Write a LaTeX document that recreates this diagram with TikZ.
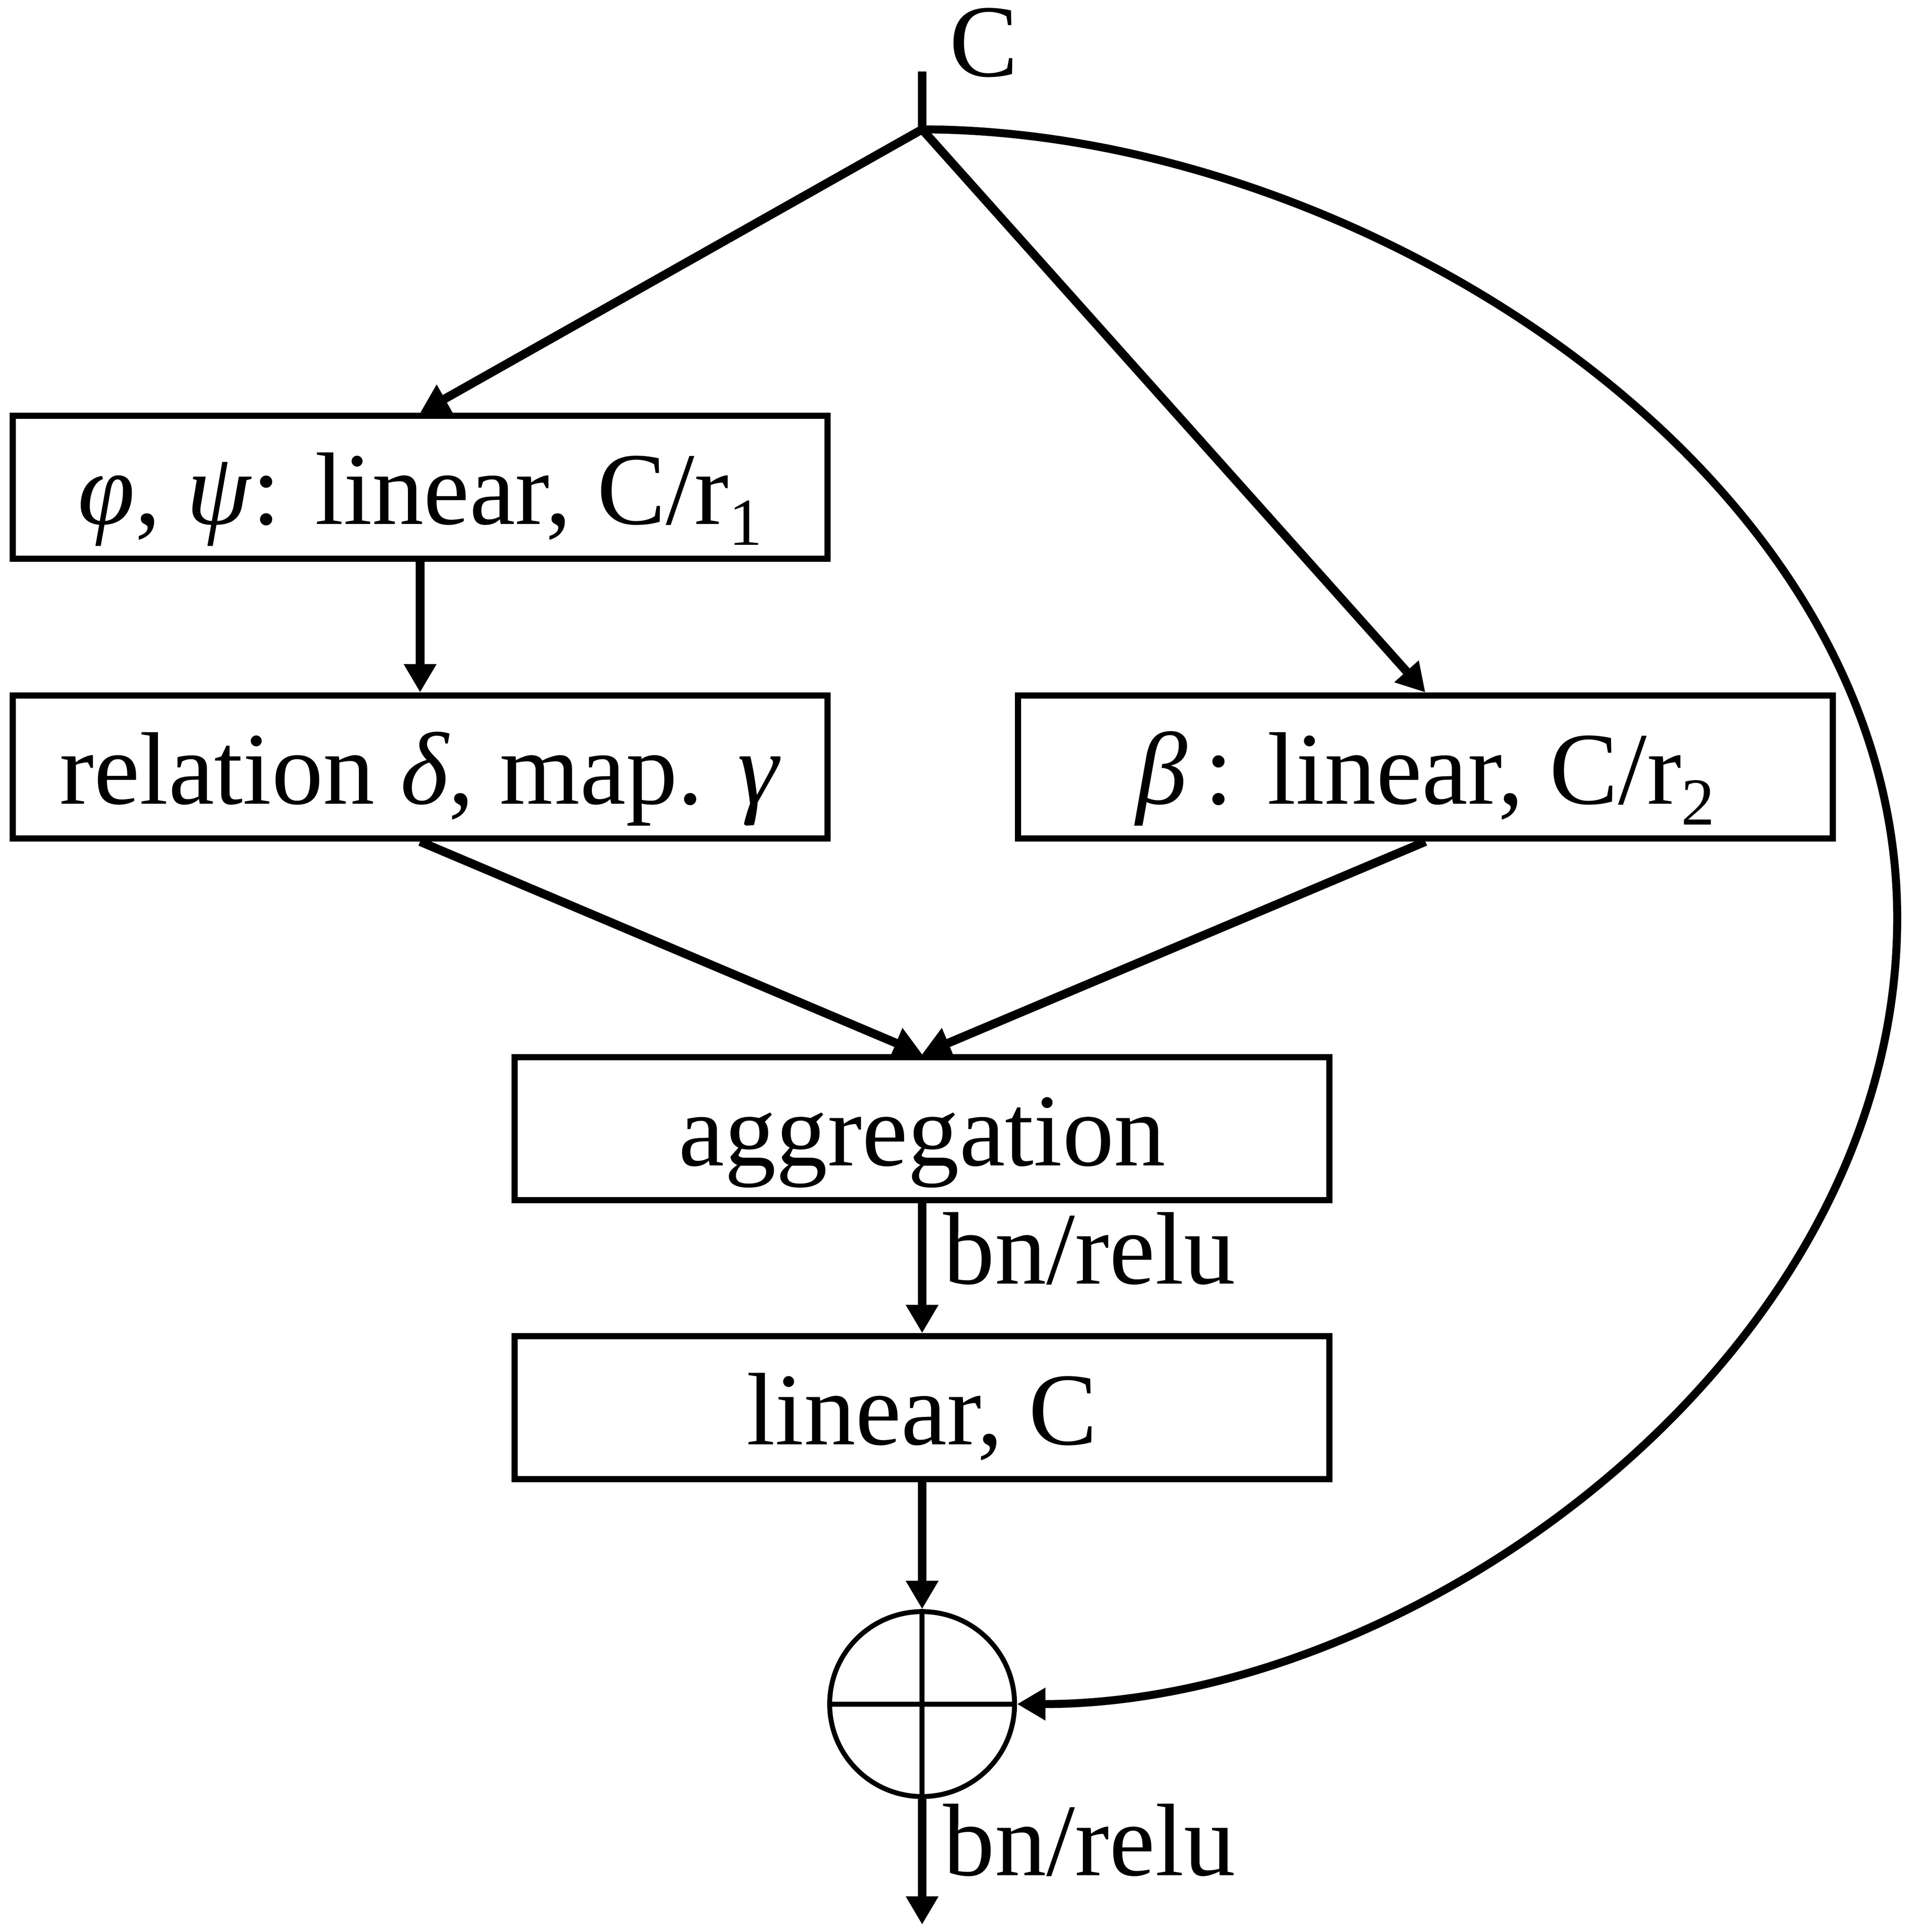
\documentclass[tikz,border=0pt]{standalone}
\usepackage{fontspec}
\setmainfont{Liberation Serif}
\usetikzlibrary{arrows.meta}
\newcommand{\mysubs}[1]{\raisebox{-0.2em}{\fontsize{15.5}{15.5}\selectfont #1}}
\begin{document}
\begin{tikzpicture}[x=0.01cm, y=-0.01cm,
  font=\fontsize{23.8}{28}\selectfont,
  >={Triangle[length=0.23cm,width=0.25cm]},
  box/.style={draw, line width=0.05cm, minimum width=6.61cm, minimum height=1.16cm, inner sep=0pt, text height=0.7cm, text depth=0.1cm},
  conn/.style={line width=0.07cm, ->},
  lbl/.style={anchor=base west, inner sep=0pt}]
\useasboundingbox (0,0) rectangle (1552,1568);
\node[box] (b1) at (341,395.5) {\textit{φ}, \textit{ψ}: linear, C/r\mysubs{1}};
\node[box] (b2) at (341,622.5) {relation \textit{δ}, map. \textit{γ}};
\node[box] (b3) at (1157,622.5) {\textit{β}\,: linear, C/r\mysubs{2}};
\node[box] (agg) at (748.5,916) {aggregation};
\node[box] (lin) at (748.5,1142.5) {linear, C};
\node[circle, draw, line width=0.04cm, minimum size=1.5cm, inner sep=0pt] (sum) at (748.5,1383) {};
\draw[line width=0.04cm] (sum.north) -- (sum.south) (sum.west) -- (sum.east);
\coordinate (top) at (748.5,58);
\coordinate (J) at (748.5,105);
\coordinate (out) at (748.5,1562);
\node[lbl] (Clab) at (770,62) {C};
\node[lbl] (bn1) at (765,1042) {bn/relu};
\node[lbl] (bn2) at (765,1522) {bn/relu};
\draw[line width=0.07cm] (top) -- (J);
\draw[conn] (J) -- (b1.north);
\draw[conn] (J) -- (b3.north);
\draw[conn] (b1) -- (b2);
\draw[conn] (b2.south) -- (agg.north);
\draw[conn] (b3.south) -- (agg.north);
\draw[conn] (agg) -- (lin);
\draw[conn] (lin) -- (sum);
\draw[conn] (sum) -- (out);
\draw[conn, line width=0.065cm] (J) .. controls (1100,105) and (1540,380) .. (1540,745)
  .. controls (1540,1100) and (1150,1383) .. (sum.east);
\end{tikzpicture}
\end{document}
